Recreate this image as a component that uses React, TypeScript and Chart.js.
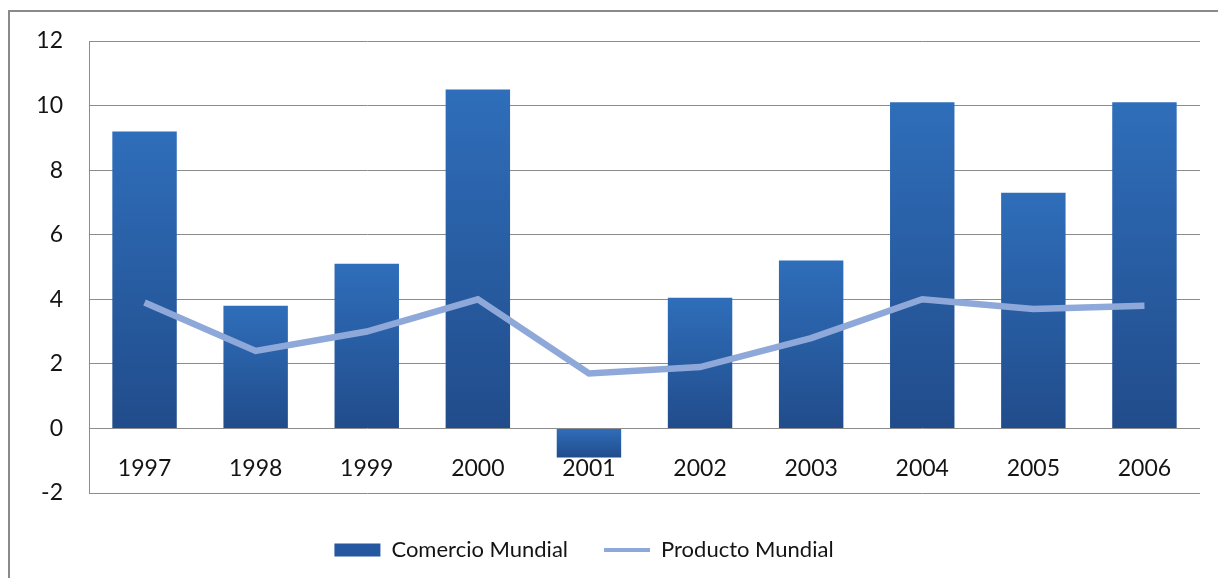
import React, { useEffect, useRef } from "react";
import { Chart, registerables } from "chart.js";

Chart.register(...registerables);

const years = ["1997", "1998", "1999", "2000", "2001", "2002", "2003", "2004", "2005", "2006"];
const comercioMundial = [9.2, 3.8, 5.1, 10.5, -0.9, 4.05, 5.2, 10.1, 7.3, 10.1];
const productoMundial = [3.9, 2.4, 3.0, 4.0, 1.7, 1.9, 2.8, 4.0, 3.7, 3.8];
const yMin = -2;
const yMax = 12;
const yStep = 2;

const FONT = "Lato";
const TEXT = "#141414";
const GRID = "#8c8c8c";
const BAR_TOP = "#2F6EBA";
const BAR_BOTTOM = "#214C8B";
const LINE = "#8EA9D9";

export default function App() {
  const ref = useRef<HTMLCanvasElement | null>(null);

  useEffect(() => {
    if (!ref.current) return;
    const chart = new Chart(ref.current, {
      type: "bar",
      data: {
        labels: years,
        datasets: [
          {
            type: "line",
            label: "Producto Mundial",
            data: productoMundial,
            borderColor: LINE,
            backgroundColor: LINE,
            borderWidth: 6.5,
            pointRadius: 0,
            tension: 0,
            order: 0,
          } as any,
          {
            type: "bar",
            label: "Comercio Mundial",
            data: comercioMundial,
            backgroundColor: (c: any) => {
              const ch = c.chart;
              const sc = ch.scales && ch.scales.y;
              if (!ch.chartArea || !sc || c.type !== "data") return BAR_TOP;
              const v = c.raw as number;
              const p0 = sc.getPixelForValue(0);
              const p1 = sc.getPixelForValue(v);
              const top = Math.min(p0, p1);
              const bot = Math.max(p0, p1);
              if (bot - top < 1) return BAR_TOP;
              const g = ch.ctx.createLinearGradient(0, top, 0, bot);
              g.addColorStop(0, BAR_TOP);
              g.addColorStop(1, BAR_BOTTOM);
              return g;
            },
            borderWidth: 0,
            categoryPercentage: 1,
            barPercentage: 0.58,
            order: 1,
          },
        ],
      },
      options: {
        animation: false,
        responsive: false,
        maintainAspectRatio: false,
        layout: { padding: { top: 41, left: 0, right: 18, bottom: 0 } },
        scales: {
          x: {
            type: "category",
            position: { y: 0 } as any,
            offset: true,
            grid: { display: false, drawTicks: false },
            border: { display: false },
            ticks: {
              color: TEXT,
              font: { family: FONT, size: 23 },
              padding: 26,
              maxRotation: 0,
            },
          },
          x2: {
            type: "category",
            position: "bottom",
            display: true,
            grid: { display: false, drawTicks: false },
            border: { display: false },
            ticks: { display: false },
            afterFit: (s: any) => {
              s.height = 10;
            },
          } as any,
          y: {
            min: yMin,
            max: yMax,
            grid: { color: GRID, lineWidth: 1, drawTicks: false },
            border: { display: true, color: GRID, width: 1 },
            ticks: {
              stepSize: yStep,
              color: TEXT,
              font: { family: FONT, size: 23 },
              padding: 26,
            },
            afterFit: (s: any) => {
              s.width = 121;
            },
          },
        },
        plugins: {
          tooltip: { enabled: false },
          legend: {
            position: "bottom",
            reverse: true,
            labels: {
              color: TEXT,
              font: { family: FONT, size: 22 },
              usePointStyle: true,
              pointStyleWidth: 46,
              boxHeight: 13,
              padding: 36,
              generateLabels: (ch: any) => {
                const items = Chart.defaults.plugins.legend.labels.generateLabels(ch);
                return items.map((it: any) => {
                  if (it.datasetIndex === 1) {
                    return { ...it, pointStyle: "rect", fillStyle: "#2558A0", strokeStyle: "#2558A0", lineWidth: 0 };
                  }
                  return { ...it, pointStyle: "line", fillStyle: LINE, strokeStyle: LINE, lineWidth: 4 };
                });
              },
            },
          },
        },
      },
    });
    return () => chart.destroy();
  }, []);

  return (
    <div
      style={{
        position: "fixed",
        left: 0,
        top: 0,
        width: 1218,
        height: 578,
        overflow: "hidden",
        background: "#ffffff",
      }}
    >
      <div
        style={{
          position: "absolute",
          left: 8,
          top: 10,
          width: 1400,
          height: 800,
          border: "2px solid #8a8a8a",
          boxSizing: "border-box",
        }}
      />
      <canvas
        ref={ref}
        width={1250}
        height={571}
        style={{ position: "absolute", left: -32, top: 0, width: 1250, height: 571 }}
      />
    </div>
  );
}
